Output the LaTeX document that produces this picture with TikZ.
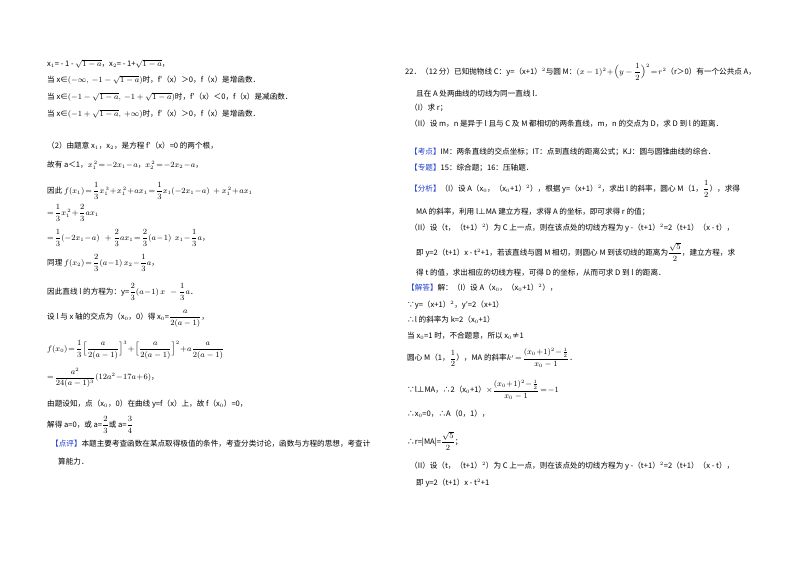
\documentclass[tikz,border=0pt]{standalone}
\usepackage{amsmath}
\usepackage{fontspec}
\setmainfont{Noto Sans CJK SC}
\definecolor{kb}{RGB}{30,60,210}
\begin{document}
\begin{tikzpicture}[x=1pt,y=-1pt,every node/.style={anchor=west,inner sep=0pt,font=\fontsize{7.6}{9}\selectfont}]
\useasboundingbox (0,0) rectangle (800,565);
\newcommand{\bl}[1]{\textcolor{kb}{【#1】}}
\newcommand{\fr}[2]{{\displaystyle\frac{#1}{#2}}}
% left column
\node (l1) at (47,64) {x$_1$= - 1 - $\sqrt{1-a}$，x$_2$= - 1+$\sqrt{1-a}$，};
\node (l2) at (47,80) {当 x∈$(-\infty,\ -1-\sqrt{1-a})$时，f′（x）＞0，f（x）是增函数．};
\node (l3) at (47,97) {当 x∈$(-1-\sqrt{1-a},\ -1+\sqrt{1-a})$时，f′（x）＜0，f（x）是减函数．};
\node (l4) at (47,114) {当 x∈$(-1+\sqrt{1-a},\ +\infty)$时，f′（x）＞0，f（x）是增函数．};
\node (l5) at (47,146) {（2）由题意 x$_1$，x$_2$，是方程 f′（x）=0 的两个根，};
\node (l6) at (47,165) {故有 a＜1，$x_1^{\,2}\!=\!-2x_1\!-\!a$，$x_2^{\,2}\!=\!-2x_2\!-\!a$，};
\node (l7) at (47,191) {因此 $f(x_1)\!=\!\fr{1}{3}x_1^{\,3}\!+\!x_1^{\,2}\!+\!ax_1\!=\!\fr{1}{3}x_1(-2x_1\!-\!a)\ +x_1^{\,2}\!+\!ax_1$};
\node (l8) at (47,213) {$=\!\fr{1}{3}x_1^{\,2}\!+\!\fr{2}{3}ax_1$};
\node (l9) at (47,238) {$=\!\fr{1}{3}(-2x_1\!-\!a)\ \ +\fr{2}{3}ax_1\!=\!\fr{2}{3}(a\!-\!1)\ \ x_1\!-\!\fr{1}{3}a$，};
\node (l10) at (47,263) {同理 $f(x_2)\!=\!\fr{2}{3}(a\!-\!1)\,x_2\!-\!\fr{1}{3}a$，};
\node (l11) at (47,292) {因此直线 l 的方程为：y=$\fr{2}{3}(a\!-\!1)\,x\ \ -\fr{1}{3}a$．};
\node (l12) at (47,319) {设 l 与 x 轴的交点为（x$_0$，0）得 x$_0$=$\fr{a}{2(a-1)}$，};
\node (l13) at (47,350) {$f(x_0)\!=\!\fr{1}{3}\Big[\fr{a}{2(a-1)}\Big]^3\!+\!\Big[\fr{a}{2(a-1)}\Big]^2\!+\!a\fr{a}{2(a-1)}$};
\node (l14) at (47,378) {$=\!\fr{a^2}{24(a-1)^3}(12a^2\!-\!17a\!+\!6)$，};
\node (l15) at (47,404) {由题设知，点（x$_0$，0）在曲线 y=f（x）上，故 f（x$_0$）=0，};
\node (l16) at (47,425) {解得 a=0，或 a=$\fr{2}{3}$或 a=$\fr{3}{4}$};
\node (l17) at (51,444) {\bl{点评}本题主要考查函数在某点取得极值的条件，考查分类讨论，函数与方程的思想，考查计};
\node (l18) at (58,462) {算能力．};
% right column
\node (r1) at (405,72) {22．（12 分）已知抛物线 C：y=（x+1）$^2$与圆 M：$(x-1)^2\!+\!\Big(y-\fr{1}{2}\Big)^2\!=\!r^2$（r＞0）有一个公共点 A，};
\node (r2) at (416,94) {且在 A 处两曲线的切线为同一直线 l．};
\node (r3) at (410,108) {（I）求 r；};
\node (r4) at (410,124) {（II）设 m，n 是异于 l 且与 C 及 M 都相切的两条直线，m，n 的交点为 D，求 D 到 l 的距离．};
\node (r5) at (410,152) {\bl{考点}IM：两条直线的交点坐标；IT：点到直线的距离公式；KJ：圆与圆锥曲线的综合．};
\node (r6) at (410,168) {\bl{专题}15：综合题；16：压轴题．};
\node (r7) at (410,189) {\bl{分析}（I）设 A（x$_0$，（x$_0$+1）$^2$），根据 y=（x+1）$^2$，求出 l 的斜率，圆心 M（1，$\fr{1}{2}$），求得};
\node (r8) at (416,212) {MA 的斜率，利用 l⊥MA 建立方程，求得 A 的坐标，即可求得 r 的值；};
\node (r9) at (410,228) {（II）设（t，（t+1）$^2$）为 C 上一点，则在该点处的切线方程为 y -（t+1）$^2$=2（t+1）（x - t），};
\node (r10) at (416,252) {即 y=2（t+1）x - t$^2$+1，若该直线与圆 M 相切，则圆心 M 到该切线的距离为$\fr{\sqrt{5}}{2}$，建立方程，求};
\node (r11) at (416,273) {得 t 的值，求出相应的切线方程，可得 D 的坐标，从而可求 D 到 l 的距离．};
\node (r12) at (407,288) {\bl{解答}解：（I）设 A（x$_0$，（x$_0$+1）$^2$），};
\node (r13) at (407,305) {∵y=（x+1）$^2$，y′=2（x+1）};
\node (r14) at (407,320) {∴l 的斜率为 k=2（x$_0$+1）};
\node (r15) at (407,336) {当 x$_0$=1 时，不合题意，所以 x$_0$≠1};
\node (r16) at (407,358) {圆心 M（1，$\fr{1}{2}$），MA 的斜率$k'\!=\!\fr{(x_0\!+\!1)^2\!-\!\frac{1}{2}}{x_0-1}$．};
\node (r17) at (407,390) {∵l⊥MA，∴2（x$_0$+1）$\times\fr{(x_0\!+\!1)^2\!-\!\frac{1}{2}}{x_0-1}\!=\!-1$};
\node (r18) at (407,414) {∴x$_0$=0，∴A（0，1），};
\node (r19) at (407,441) {∴r=|MA|=$\fr{\sqrt{5}}{2}$；};
\node (r20) at (410,466) {（II）设（t，（t+1）$^2$）为 C 上一点，则在该点处的切线方程为 y -（t+1）$^2$=2（t+1）（x - t），};
\node (r21) at (416,483) {即 y=2（t+1）x - t$^2$+1};
\end{tikzpicture}
\end{document}
